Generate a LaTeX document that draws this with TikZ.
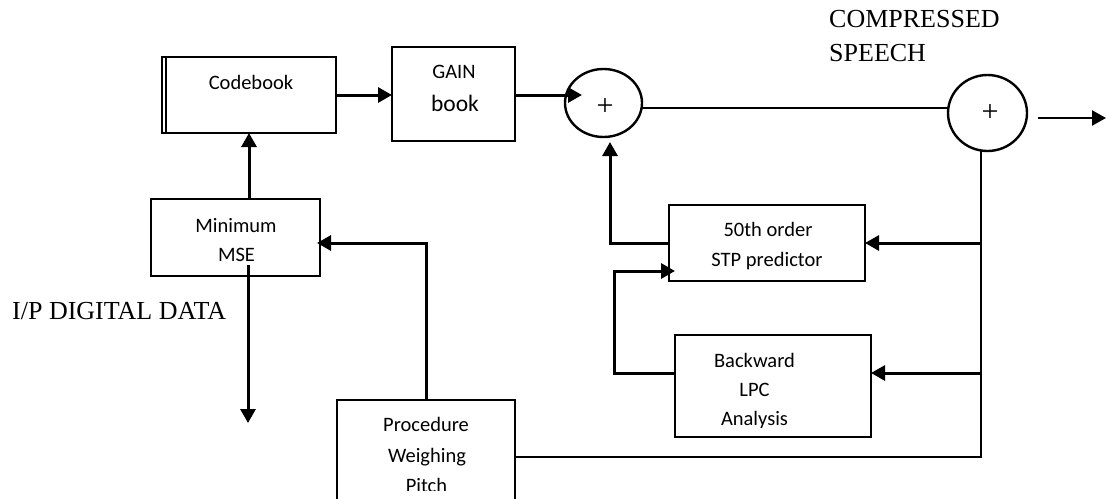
\documentclass[tikz,border=0pt]{standalone}
\usepackage{fontspec}
\setmainfont{Liberation Serif}
\newfontfamily\boxfont{Carlito}
\usetikzlibrary{arrows.meta,calc,shapes.geometric}
\begin{document}
\begin{tikzpicture}[x=1pt,y=-1pt,
  block/.style={draw,rectangle,line width=2.1pt,inner sep=0pt,outer sep=0pt},
  sumnode/.style={draw,ellipse,line width=2.4pt,inner sep=0pt,outer sep=0pt},
  lbl/.style={font=\boxfont\fontsize{20.5}{24}\selectfont,anchor=base,inner sep=0pt},
  big/.style={font=\fontsize{26}{30}\selectfont,anchor=base west,inner sep=0pt},
  plus/.style={font=\fontsize{30}{32}\selectfont,inner sep=0pt},
  wire/.style={line width=2.3pt},
  bus/.style={line width=2.8pt},
  tip/.style={-{Triangle[length=14pt,width=15pt]}},
  arr/.style={line width=3pt,tip}]

\fill[white] (0,0) rectangle (1107,498);
\useasboundingbox (0,0) rectangle (1107,498);
\clip (0,0) rectangle (1107,498);

% blocks
\node[block,minimum width=174pt,minimum height=76pt] (cb) at (249,95) {};
\draw[line width=1.5pt] ([xshift=4pt]cb.north west) -- ([xshift=4pt]cb.south west);
\node[block,minimum width=123pt,minimum height=94pt] (gain) at (453.5,94) {};
\node[block,minimum width=169pt,minimum height=77pt] (mse) at (235.5,237.5) {};
\node[block,minimum width=196pt,minimum height=76pt] (stp) at (767,243) {};
\node[block,minimum width=196pt,minimum height=102pt] (lpc) at (773,386) {};
\node[block,minimum width=178pt,minimum height=114pt] (proc) at (426,457) {};

% summing junctions
\node[sumnode,minimum width=77pt,minimum height=68pt] (s1) at (603.5,103) {};
\node[sumnode,minimum width=79pt,minimum height=76pt] (s2) at (987.5,113) {};
\node[plus] (p1) at (605,107) {+};
\node[plus] (p2) at (990,113) {+};

% block labels
\node[lbl] (cbT) at (251,89) {Codebook};
\node[lbl] (gainT1) at (454,78) {GAIN};
\node[lbl,font=\boxfont\fontsize{23.5}{26}\selectfont] (gainT2) at (455,111) {book};
\node[lbl] (mseT1) at (236,232) {Minimum};
\node[lbl] (mseT2) at (236.5,261) {MSE};
\node[lbl] (stpT1) at (768,236) {50th order};
\node[lbl] (stpT2) at (767,266) {STP predictor};
\node[lbl] (lpcT1) at (754.5,367) {Backward};
\node[lbl] (lpcT2) at (754.5,396) {LPC};
\begin{scope}
  \clip (675,335) rectangle (871,427);
  \node[lbl] (lpcT3) at (754.5,425) {Analysis};
\end{scope}
\node[lbl] (procT1) at (426,431) {Procedure};
\node[lbl] (procT2) at (427,462) {Weighing};
\begin{scope}
  \clip (337,400) rectangle (515,490);
  \node[lbl] (procT3) at (426.5,492) {Pitch};
\end{scope}

% free texts
\node[big] (cs1) at (829,27) {COMPRESSED};
\node[big] (cs2) at (829,61) {SPEECH};
\node[big] (ip) at (12,319) {I/P DIGITAL DATA};

% forward path
\draw[arr] (cb.east) -- (cb.east -| gain.west);
\coordinate (s1in) at (582,95);
\draw[arr] (gain.east |- s1in) -- (s1in);
\draw[wire] (s1.-8) -- (s1.-8 -| s2.west);
\coordinate (outA) at (1038,118);
\coordinate (outB) at (1106,118);
\draw[wire,tip] (outA) -- (outB);

% output bus feeding the predictors
\draw[bus] (proc.east) -| (s2.260);
\draw[arr] (s2.260 |- stp.east) -- (stp.east);
\coordinate (lpcIn) at ($(lpc.east)+(0,-13)$);
\draw[arr] (lpcIn -| s2.260) -- (lpcIn);

% predictor loop
\coordinate (s1up) at ($(s1.south)+(6.5,5)$);
\draw[arr] (stp.west) -| (s1up);
\coordinate (stpIn) at ($(stp.west)+(6,28)$);
\draw[arr] ($(lpc.west)+(0,-13)$) -- ++(-61,0) |- (stpIn);

% codebook search
\draw[arr] (mse.north -| cb.south) -- (cb.south);
\coordinate (ipOut) at (248,423);
\draw[arr] (ipOut |- mse.south) ++(0,-11) -- (ipOut);
\draw[arr] (proc.north) |- ($(mse.east)+(-3,5.5)$);

\end{tikzpicture}
\end{document}
